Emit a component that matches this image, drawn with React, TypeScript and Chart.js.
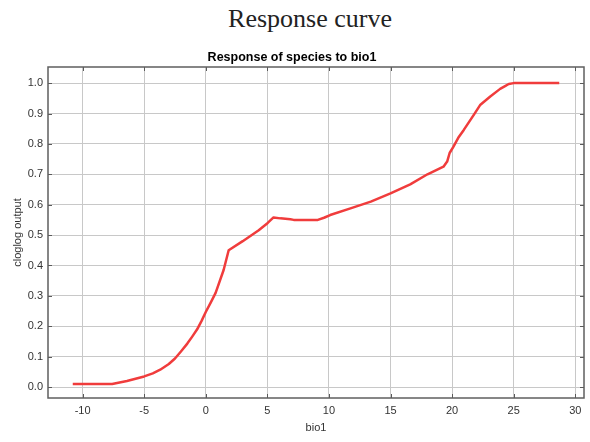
import React, { useEffect, useRef } from "react";
import { Chart, registerables } from "chart.js";

Chart.register(...registerables);

const bioX = [-10.8, -7.6, -6.4, -5.0, -4.3, -3.7, -3.0, -2.5, -2.0, -1.5, -1.1, -0.7, -0.35, 0.0, 0.4, 0.8, 1.45, 1.86, 3.0, 4.3, 5.03, 5.5, 6.06, 6.87, 7.14, 9.1, 9.6, 10.1, 11.75, 13.4, 15.0, 16.6, 18.0, 19.3, 19.6, 19.8, 20.1, 20.5, 20.95, 21.8, 22.3, 23.1, 23.9, 24.3, 24.6, 25.0, 28.7];
const output = [0.01, 0.01, 0.02, 0.035, 0.045, 0.057, 0.076, 0.094, 0.118, 0.143, 0.166, 0.19, 0.217, 0.247, 0.278, 0.31, 0.385, 0.45, 0.48, 0.516, 0.54, 0.558, 0.555, 0.552, 0.55, 0.55, 0.557, 0.566, 0.588, 0.61, 0.637, 0.667, 0.7, 0.725, 0.742, 0.77, 0.79, 0.82, 0.846, 0.898, 0.929, 0.956, 0.981, 0.99, 0.997, 1.0, 1.0];

const xTicks = [-10, -5, 0, 5, 10, 15, 20, 25, 30];
const yTicks = [0, 0.1, 0.2, 0.3, 0.4, 0.5, 0.6, 0.7, 0.8, 0.9, 1.0];

const pageTitle = "Response curve";
const chartTitle = "Response of species to bio1";
const xTitle = "bio1";
const yTitle = "cloglog output";

const framePlugin = {
  id: "frame",
  afterDatasetsDraw(chart: any) {
    const { ctx, chartArea: a, scales } = chart;
    ctx.save();
    ctx.strokeStyle = "#5a5a5a";
    ctx.lineWidth = 1;
    const len = 4;
    ctx.beginPath();
    xTicks.forEach((v) => {
      const px = Math.round(scales.x.getPixelForValue(v)) + 0.5;
      ctx.moveTo(px, a.bottom);
      ctx.lineTo(px, a.bottom - len);
      ctx.moveTo(px, a.top);
      ctx.lineTo(px, a.top + len);
    });
    yTicks.forEach((v) => {
      const py = Math.round(scales.y.getPixelForValue(v)) + 0.5;
      ctx.moveTo(a.left, py);
      ctx.lineTo(a.left + len, py);
      ctx.moveTo(a.right, py);
      ctx.lineTo(a.right - len, py);
    });
    ctx.stroke();
    ctx.lineWidth = 1.5;
    ctx.strokeStyle = "#5f5f5f";
    ctx.strokeRect(a.left, a.top, a.right - a.left, a.bottom - a.top);
    ctx.restore();
  },
};

export default function App() {
  const ref = useRef<HTMLCanvasElement | null>(null);
  useEffect(() => {
    if (!ref.current) return;
    const chart = new Chart(ref.current, {
      type: "line",
      data: {
        datasets: [
          {
            data: bioX.map((x, i) => ({ x, y: output[i] })),
            borderColor: "rgb(240,60,60)",
            borderWidth: 2.5,
            pointRadius: 0,
            tension: 0,
            borderJoinStyle: "round",
            fill: false,
          },
        ],
      },
      options: {
        animation: false,
        responsive: false,
        maintainAspectRatio: false,
        layout: { padding: { left: 0, right: 6, top: 0, bottom: 0 } },
        plugins: {
          legend: { display: false },
          tooltip: { enabled: false },
          title: {
            display: true,
            text: chartTitle,
            color: "#000",
            font: { family: "'Liberation Sans', Arial, sans-serif", size: 12.5, weight: "bold", lineHeight: 1.2 },
            padding: { top: 10, bottom: 2 },
          },
        },
        scales: {
          x: {
            type: "linear",
            min: -12.81,
            max: 30.71,
            afterBuildTicks: (s: any) => {
              s.ticks = xTicks.map((v) => ({ value: v }));
            },
            afterFit: (s: any) => {
              s.height = 44;
            },
            grid: { color: "#c8c8c8", lineWidth: 1, drawTicks: false },
            border: { display: false },
            ticks: {
              color: "#333",
              padding: 6,
              maxRotation: 0,
              font: { family: "'Liberation Sans', Arial, sans-serif", size: 11 },
              callback: (v: any) => String(v),
            },
            title: {
              display: true,
              text: xTitle,
              color: "#333",
              font: { family: "'Liberation Sans', Arial, sans-serif", size: 11 },
              padding: { top: 0, bottom: 7.4 },
            },
          },
          y: {
            type: "linear",
            min: -0.036,
            max: 1.053,
            afterBuildTicks: (s: any) => {
              s.ticks = yTicks.map((v) => ({ value: v }));
            },
            afterFit: (s: any) => {
              s.width = 48;
            },
            grid: { color: "#c8c8c8", lineWidth: 1, drawTicks: false },
            border: { display: false },
            ticks: {
              color: "#333",
              padding: 5,
              font: { family: "'Liberation Sans', Arial, sans-serif", size: 11 },
              callback: (v: any) => Number(v).toFixed(1),
            },
            title: {
              display: true,
              text: yTitle,
              color: "#333",
              font: { family: "'Liberation Sans', Arial, sans-serif", size: 11 },
              padding: { top: 11.4, bottom: 0 },
            },
          },
        },
      },
      plugins: [framePlugin],
    });
    return () => chart.destroy();
  }, []);

  return (
    <div style={{ position: "fixed", left: 0, top: 0, width: 590, height: 442, background: "#fff" }}>
      <div
        style={{
          position: "absolute",
          left: 0,
          top: 4,
          width: 620,
          textAlign: "center",
          fontFamily: "'Liberation Serif', 'Times New Roman', serif",
          fontSize: 26,
          lineHeight: "30px",
          color: "#222",
        }}
      >
        {pageTitle}
      </div>
      <canvas ref={ref} width={590} height={402} style={{ position: "absolute", left: 0, top: 40, width: 590, height: 402 }} />
    </div>
  );
}
